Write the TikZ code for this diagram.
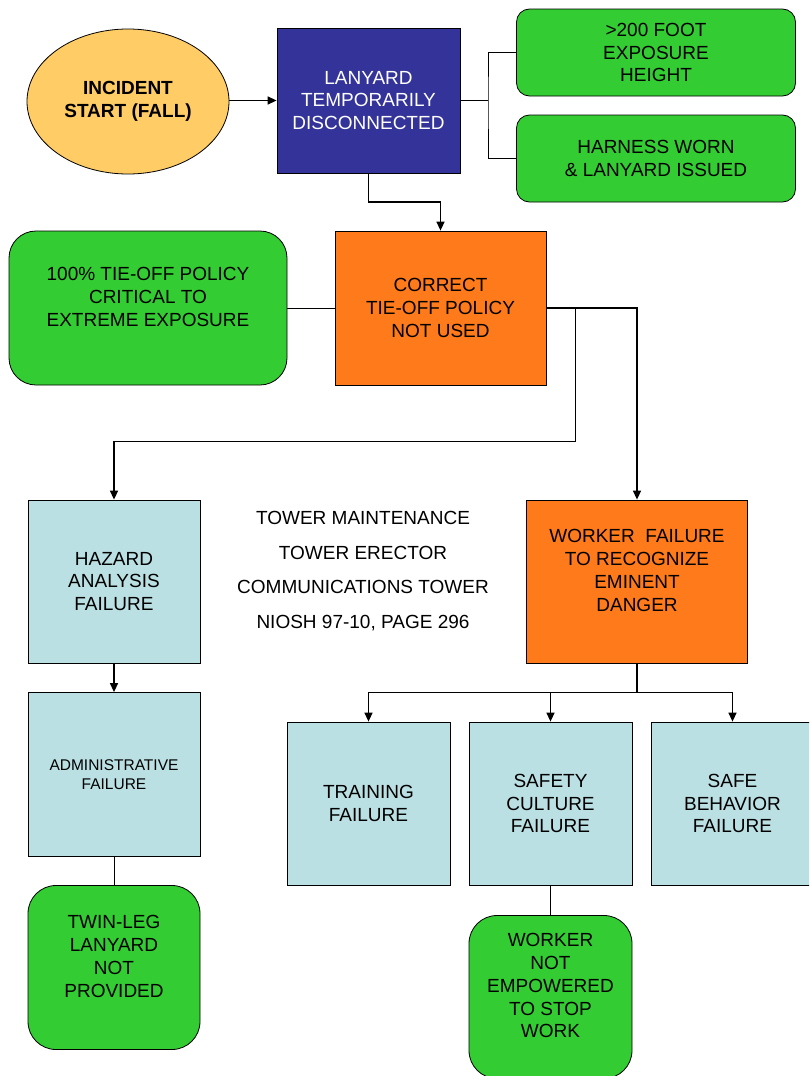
\documentclass[tikz,border=0pt]{standalone}
\usepackage{fontspec}
\setmainfont{Liberation Sans}
\usetikzlibrary{shapes.geometric,arrows.meta}

\definecolor{eventblue}{RGB}{51,51,153}
\definecolor{startyellow}{RGB}{255,204,102}
\definecolor{factorgreen}{RGB}{51,204,51}
\definecolor{failorange}{RGB}{255,122,26}
\definecolor{causecyan}{RGB}{187,224,227}

\begin{document}
\begin{tikzpicture}[x=1pt,y=-1pt,
  box/.style={draw=black, line width=0.8pt, inner sep=0pt, align=center,
    font=\fontsize{19}{22.9}\selectfont},
  startnode/.style={box, ellipse, fill=startyellow, font=\fontsize{19}{22.7}\selectfont\bfseries},
  eventbox/.style={box, fill=eventblue, text=white},
  failbox/.style={box, fill=failorange},
  causebox/.style={box, fill=causecyan},
  factorbox/.style={box, fill=factorgreen, rounded corners=#1},
  factorbox/.default=13pt,
  link/.style={line width=1pt},
  arrow/.style={line width=1.4pt, -{Triangle[length=9pt,width=8pt]}}
]
\useasboundingbox (0,0) rectangle (809,1076);
\clip (0,0) rectangle (809,1076);
\fill[white] (0,0) rectangle (809,1076);

% top row
\node[startnode, minimum width=202pt, minimum height=145pt] (start) at (128,101.5)
  {INCIDENT\\START (FALL)};
\node[eventbox, minimum width=183pt, minimum height=145pt] (lanyard) at (368.5,100.5)
  {LANYARD\\TEMPORARILY\\DISCONNECTED};
\node[factorbox, minimum width=279pt, minimum height=87pt] (expo) at (656,52.5)
  {>200 FOOT\\EXPOSURE\\HEIGHT};
\node[factorbox, minimum width=279pt, minimum height=87pt] (harness) at (656,158.5)
  {HARNESS WORN\\\& LANYARD ISSUED};

% second row
\node[factorbox=27pt, minimum width=278pt, minimum height=154pt] (policy) at (148,308)
  {100\% TIE-OFF POLICY\\CRITICAL TO\\EXTREME EXPOSURE\\\mbox{}};
\node[failbox, minimum width=211pt, minimum height=154pt] (tieoff) at (440.5,308)
  {CORRECT\\TIE-OFF POLICY\\NOT USED};

% left branch
\node[causebox, minimum width=172pt, minimum height=163pt] (hazard) at (114,581.5)
  {HAZARD\\ANALYSIS\\FAILURE};
\node[causebox, minimum width=172pt, minimum height=164pt,
  font=\fontsize{15.5}{19}\selectfont] (admin) at (114,774.5)
  {ADMINISTRATIVE\\FAILURE};
\node[factorbox=28pt, minimum width=172pt, minimum height=164pt] (twin) at (114,967.5)
  {TWIN-LEG\\LANYARD\\NOT\\PROVIDED\\\mbox{}};

% case reference
\node[align=center, inner sep=0pt, font=\fontsize{19}{34.6}\selectfont] (ref) at (363,571)
  {TOWER MAINTENANCE\\TOWER ERECTOR\\COMMUNICATIONS TOWER\\NIOSH 97-10, PAGE 296};

% right branch
\node[failbox, minimum width=221pt, minimum height=163pt] (worker) at (637,581.5)
  {WORKER\ \ FAILURE\\TO RECOGNIZE\\EMINENT\\DANGER\\\mbox{}};
\node[causebox, minimum width=163pt, minimum height=163pt] (training) at (368.5,803.5)
  {TRAINING\\FAILURE};
\node[causebox, minimum width=163pt, minimum height=163pt] (culture) at (550.5,803.5)
  {SAFETY\\CULTURE\\FAILURE};
\node[causebox, minimum width=163pt, minimum height=163pt] (behavior) at (732.5,803.5)
  {SAFE\\BEHAVIOR\\FAILURE};
\node[factorbox=28pt, minimum width=163pt, minimum height=163pt] (empower) at (550.5,997)
  {WORKER\\NOT\\EMPOWERED\\TO STOP\\WORK\\\mbox{}};

% connectors
\coordinate (split) at (488,100.5);
\draw[arrow] (start.east |- lanyard.west) -- (lanyard.west);
\draw[link] (lanyard.east) -- (split);
\draw[link] (expo.west) -| (split) |- (harness.west);
\draw[arrow] (lanyard.south) -- ++(0,28.5) -| (tieoff.north);
\draw[link] (policy.east) -- (tieoff.west);
\draw[arrow] (tieoff.east) -- ++(29,0) -- ++(0,133.5) -| (hazard.north);
\draw[arrow] (tieoff.east) -| (worker.north);
\draw[arrow] (hazard.south) -- (admin.north);
\draw[link] (admin.south) -- (twin.north);
\draw[arrow, -] (worker.south) -- ++(0,29) coordinate (bus);
\draw[arrow] (bus) -| (training.north);
\draw[arrow] (bus) -| (culture.north);
\draw[arrow] (bus) -| (behavior.north);
\draw[link] (culture.south) -- (empower.north);
\end{tikzpicture}
\end{document}
